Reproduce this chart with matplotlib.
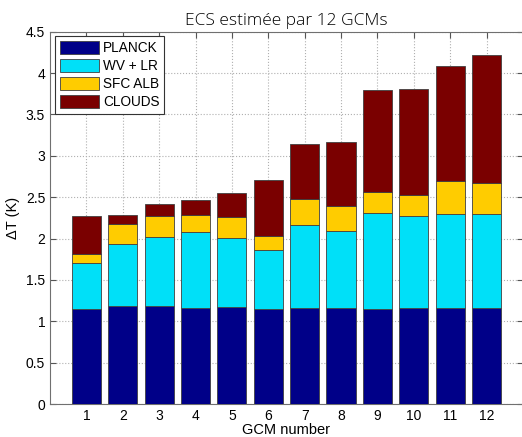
import numpy as np
import matplotlib
matplotlib.use('Agg')
import matplotlib.pyplot as plt

# Feedback contributions to ECS per model (cumulative tops)
gcm = np.arange(1, 13)
planck = np.array([1.15, 1.18, 1.19, 1.16, 1.17, 1.15, 1.16, 1.16, 1.15, 1.16, 1.16, 1.16])
wvlr_top = np.array([1.71, 1.93, 2.02, 2.08, 2.01, 1.86, 2.16, 2.09, 2.31, 2.27, 2.30, 2.30])
alb_top = np.array([1.81, 2.18, 2.27, 2.29, 2.26, 2.03, 2.48, 2.39, 2.56, 2.53, 2.69, 2.67])
total = np.array([2.27, 2.29, 2.42, 2.47, 2.55, 2.71, 3.14, 3.17, 3.79, 3.81, 4.08, 4.22])

wvlr = wvlr_top - planck
alb = alb_top - wvlr_top
clouds = total - alb_top

labels = ['PLANCK', 'WV + LR', 'SFC ALB', 'CLOUDS']
colors = ['#000088', '#00E0F8', '#FFCC00', '#7A0000']

plt.rcParams['font.family'] = ['Liberation Sans', 'DejaVu Sans']

fig = plt.figure(figsize=(5.22, 4.37), dpi=100)
ax = fig.add_axes([0.0958, 0.0755, 0.906, 0.852])

bottom = np.zeros(len(gcm))
for vals, lab, col in zip([planck, wvlr, alb, clouds], labels, colors):
	ax.bar(gcm, vals, bottom=bottom, width=0.8, color=col, edgecolor='#404040', linewidth=0.6, label=lab, zorder=3)
	bottom = bottom + vals

ax.set_xlim(0, 13)
ax.set_ylim(0, 4.5)
ax.set_xticks(gcm)
yt = np.arange(0, 4.51, 0.5)
ax.set_yticks(yt)
ax.set_yticklabels(['%g' % v for v in yt])
ax.tick_params(direction='in', top=True, right=True, labelsize=10, length=4, color='#555555')
ax.grid(True, linestyle=':', color='#b0b0b0', linewidth=0.8, zorder=0)
for s in ax.spines.values():
	s.set_color('#707070')
ax.spines['right'].set_visible(False)

ax.set_xlabel('GCM number', fontsize=10.5, labelpad=0)
ax.set_ylabel('ΔT (K)', fontsize=10.5, labelpad=4)
ax.set_title('ECS estimée par 12 GCMs', fontsize=12.5, family=['Open Sans', 'DejaVu Sans'], fontweight='light', pad=5)

leg = ax.legend(loc='upper left', fontsize=9.8, fancybox=False, edgecolor='#333333', framealpha=1,
				borderaxespad=0.35, handlelength=2.9, handleheight=1.1, labelspacing=0.28, borderpad=0.35, handletextpad=0.3)
leg.get_frame().set_linewidth(0.8)
leg.set_zorder(5)

fig.savefig('out.png', dpi=100)
